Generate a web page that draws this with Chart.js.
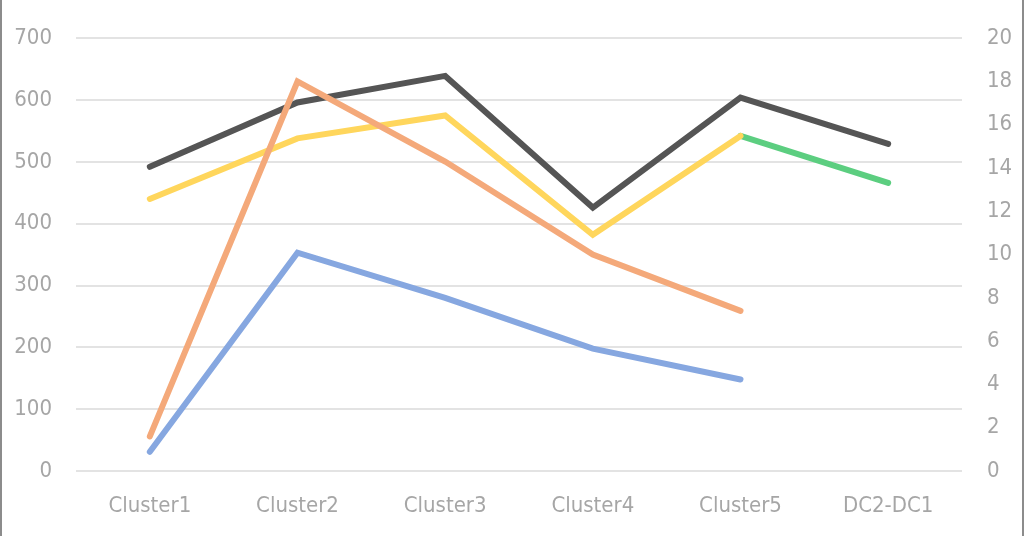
<!DOCTYPE html>
<html>
<head>
<meta charset="utf-8">
<script src="https://cdn.jsdelivr.net/npm/chart.js@4"></script>
<style>
  html, body { margin: 0; padding: 0; background: #fff; }
  #wrap {
    position: relative; width: 1024px; height: 536px; box-sizing: border-box;
    border-left: 2px solid #8c8c8c; border-right: 2px solid #8c8c8c;
  }
</style>
</head>
<body>
<div id="wrap"><canvas id="myChart"></canvas></div>
<script>
// categories and series
var clusters = ['Cluster1', 'Cluster2', 'Cluster3', 'Cluster4', 'Cluster5', 'DC2-DC1'];
var graySeries   = [492, 596, 639, 426, 604, 529];
var yellowSeries = [440, 538, 575, 382, 542, null];
var greenSeries  = [null, null, null, null, 542, 466];
var blueSeries   = [31, 353, 280, 198, 148, null];
// orange is read on the right hand axis
var orangeSeries = [1.6, 18.0, 14.3, 10.0, 7.4, null];

var leftTicks = [0, 100, 200, 300, 400, 500, 600, 700];
var rightTicks = [0, 2, 4, 6, 8, 10, 12, 14, 16, 18, 20];

var font = { family: "'DejaVu Sans Condensed', 'Open Sans', sans-serif", size: 22 };
var labelColor = '#a6a6a6';

function line(data, color, axis) {
    return {
        data: data,
        borderColor: color,
        backgroundColor: color,
        borderWidth: 6,
        pointRadius: 0,
        tension: 0,
        spanGaps: false,
        yAxisID: axis || 'y',
        borderCapStyle: 'round',
        borderJoinStyle: 'miter'
    };
}

var ctx = document.getElementById('myChart').getContext('2d');
var chart = new Chart(ctx, {
    type: 'line',
    data: {
        labels: clusters,
        datasets: [
            line(blueSeries, '#86a7e0'),
            line(orangeSeries, '#f4a97a', 'y1'),
            line(yellowSeries, '#ffd65c'),
            line(greenSeries, '#5cce80'),
            line(graySeries, '#555555')
        ]
    },
    options: {
        responsive: true,
        maintainAspectRatio: false,
        animation: false,
        layout: { padding: { top: 22, left: 0, right: 0, bottom: 0 } },
        plugins: { legend: { display: false }, tooltip: { enabled: false } },
        scales: {
            x: {
                offset: true,
                grid: { display: false, drawTicks: false },
                border: { display: false },
                ticks: { color: labelColor, font: font, padding: 22, maxRotation: 0 },
                afterFit: function(s) { s.height = 65; }
            },
            y: {
                position: 'left',
                min: 0, max: 700,
                afterBuildTicks: function(s) { s.ticks = leftTicks.map(function(v) { return { value: v }; }); },
                grid: { color: '#e3e3e3', lineWidth: 2, drawTicks: false },
                border: { display: false },
                ticks: { color: labelColor, font: font, padding: 24 },
                afterFit: function(s) { s.width = 74; }
            },
            y1: {
                position: 'right',
                min: 0, max: 20,
                afterBuildTicks: function(s) { s.ticks = rightTicks.map(function(v) { return { value: v }; }); },
                grid: { display: false, drawTicks: false },
                border: { display: false },
                ticks: { color: labelColor, font: font, padding: 25 },
                afterFit: function(s) { s.width = 60; }
            }
        }
    }
});
</script>
</body>
</html>
